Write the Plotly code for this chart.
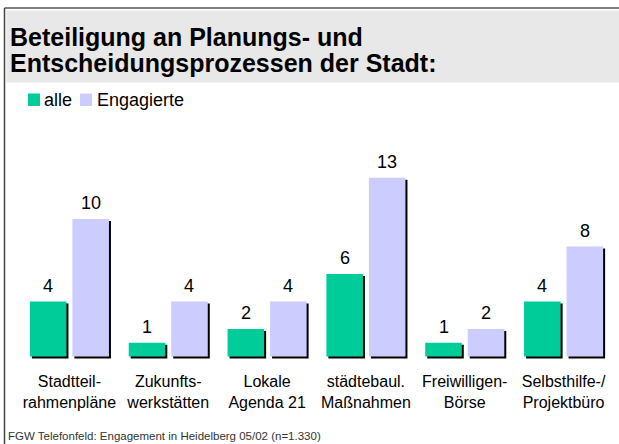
import plotly.graph_objects as go

# ---- data ----
categories = ["Stadtteil-<br>rahmenpläne", "Zukunfts-<br>werkstätten", "Lokale<br>Agenda 21",
              "städtebaul.<br>Maßnahmen", "Freiwilligen-<br>Börse", "Selbsthilfe-/<br>Projektbüro"]
alle = [4, 1, 2, 6, 1, 4]
engagierte = [10, 4, 4, 13, 2, 8]
series_names = ["alle", "Engagierte"]
title_lines = ["Beteiligung an Planungs- und", "Entscheidungsprozessen der Stadt:"]
footnote = "FGW Telefonfeld: Engagement in Heidelberg 05/02 (n=1.330)"

# ---- style ----
W, H = 619, 444
ML, MR, MT, MB = 20, 6, 142, 82
PW, PH = W - ML - MR, H - MT - MB
GREEN = "#00CC99"
PURPLE = "#CCCCFF"
FONT = "Arial, Liberation Sans, sans-serif"
BAR_W = 0.37
OFF_G, OFF_P = -0.40, 0.03
YMIN, YMAX = -0.4, 15.6
PX_PER_UNIT = PH / (YMAX - YMIN)
CAT_PX = PW / len(categories)
SH_X = 2.0 / CAT_PX
SH_Y = 2.0 / PX_PER_UNIT


def px(x):
    return (x - ML) / PW


def py(y):
    return (H - MB - y) / PH


fig = go.Figure()
# shadows
for vals, off in ((alle, OFF_G), (engagierte, OFF_P)):
    fig.add_trace(go.Bar(x=categories, y=vals, base=[-SH_Y] * len(vals),
                         offset=off + SH_X, width=BAR_W, marker=dict(color="black", line=dict(width=0)),
                         showlegend=False, hoverinfo="skip"))
# bars
for vals, off, col, name in ((alle, OFF_G, GREEN, series_names[0]),
                             (engagierte, OFF_P, PURPLE, series_names[1])):
    fig.add_trace(go.Bar(x=categories, y=vals, offset=off, width=BAR_W, name=name,
                         marker=dict(color=col, line=dict(width=0)), showlegend=False))

annotations = []
for vals, off in ((alle, OFF_G), (engagierte, OFF_P)):
    for c, v in zip(categories, vals):
        annotations.append(dict(x=c, y=v, xref="x", yref="y", text=str(v), showarrow=False,
                                xanchor="center", yanchor="bottom",
                                xshift=(off + BAR_W / 2) * CAT_PX, yshift=4,
                                font=dict(size=18, color="black", family=FONT)))

# title
for i, (t, base) in enumerate(zip(title_lines, (45, 72))):
    annotations.append(dict(x=px(8), y=py(base - 8.5), xref="paper", yref="paper", text=f"<b>{t}</b>",
                            showarrow=False, xanchor="left", yanchor="middle",
                            font=dict(size=25, color="black", family=FONT)))
# legend
annotations.append(dict(x=px(42), y=py(100), xref="paper", yref="paper", text=series_names[0],
                        showarrow=False, xanchor="left", yanchor="middle",
                        font=dict(size=18, color="black", family=FONT)))
annotations.append(dict(x=px(95), y=py(100), xref="paper", yref="paper", text=series_names[1],
                        showarrow=False, xanchor="left", yanchor="middle",
                        font=dict(size=18, color="black", family=FONT)))
# footnote
annotations.append(dict(x=px(6), y=py(436), xref="paper", yref="paper", text=footnote,
                        showarrow=False, xanchor="left", yanchor="middle",
                        font=dict(size=11.5, color="#333333", family=FONT)))

shapes = [
    dict(type="rect", xref="paper", yref="paper", x0=px(6.5), x1=px(619), y0=py(82.5), y1=py(10.5),
         fillcolor="#E8E8E8", line=dict(width=0), layer="below"),
    dict(type="line", xref="paper", yref="paper", x0=px(4.5), x1=px(619), y0=py(8), y1=py(8),
         line=dict(color="#555555", width=1.5)),
    dict(type="line", xref="paper", yref="paper", x0=px(4.5), x1=px(4.5), y0=py(8), y1=py(444),
         line=dict(color="#444444", width=1.5)),
    dict(type="rect", xref="paper", yref="paper", x0=px(28), x1=px(40), y0=py(106), y1=py(93.5),
         fillcolor=GREEN, line=dict(width=0)),
    dict(type="rect", xref="paper", yref="paper", x0=px(80), x1=px(92), y0=py(106), y1=py(93.5),
         fillcolor=PURPLE, line=dict(width=0)),
]

fig.update_layout(
    width=W, height=H, margin=dict(l=ML, r=MR, t=MT, b=MB, pad=0),
    paper_bgcolor="white", plot_bgcolor="white",
    barmode="overlay", showlegend=False,
    annotations=annotations, shapes=shapes,
    font=dict(family=FONT, color="black"),
)
fig.update_xaxes(type="category", showgrid=False, zeroline=False, showline=False,
                 ticks="outside", ticklen=5, tickcolor="rgba(0,0,0,0)",
                 tickfont=dict(size=16, color="black", family=FONT))
fig.update_yaxes(range=[YMIN, YMAX], visible=False, showgrid=False, zeroline=False)

fig.write_html("out.html", config={"displayModeBar": False},
               post_script="document.body.style.margin='0';document.body.style.overflow='hidden';")
